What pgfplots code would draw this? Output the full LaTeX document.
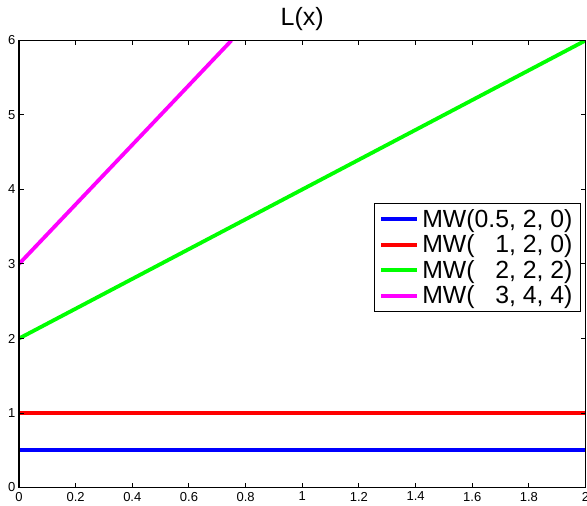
\documentclass[border=0pt]{standalone}
\usepackage{fontspec}
\setmainfont{Liberation Sans}
\usepackage{pgfplots}
\pgfplotsset{compat=1.18}
\definecolor{mlblue}{rgb}{0,0,1}
\definecolor{mlred}{rgb}{1,0,0}
\definecolor{mlgreen}{rgb}{0,1,0}
\definecolor{mlmag}{rgb}{1,0,1}
\begin{document}
\begin{tikzpicture}
\begin{axis}[
  scale only axis,
  width=566.5pt, height=447pt,
  xmin=0, xmax=2, ymin=0, ymax=6,
  xtick={0,0.2,0.4,0.6,0.8,1,1.2,1.4,1.6,1.8,2},
  ytick={0,1,2,3,4,5,6},
  tick align=inside,
  major tick length=5pt,
  axis on top,
  axis line style={line width=1.2pt, black},
  every tick/.style={black, line width=1pt},
  /pgf/number format/assume math mode=true,
  tick label style={font=\fontsize{13}{15}\selectfont},
  xticklabel style={yshift=-1pt},
  title={L(x)},
  title style={font=\fontsize{25}{30}\selectfont},
  legend style={
    at={(0.992,0.6365)}, anchor=north east,
    draw=black, line width=1pt,
    font=\fontsize{24.8}{29}\selectfont,
    cells={anchor=west},
    inner xsep=5pt, inner ysep=3pt,
    row sep=0pt,
    nodes={inner xsep=3pt, inner ysep=3pt},
  },
  legend cell align=left,
  legend image code/.code={\draw[#1, line width=3.8pt] (0pt,0pt) -- (36pt,0pt);},
]
\addplot[mlblue, line width=3.8pt] coordinates {(0,0.5) (2,0.5)};
\addplot[mlred, line width=3.8pt] coordinates {(0,1) (2,1)};
\addplot[mlgreen, line width=3.8pt] coordinates {(0,2) (2,6)};
\addplot[mlmag, line width=3.8pt] coordinates {(0,3) (0.75,6)};
\legend{{MW(0.5, 2, 0)}, {MW(\phantom{0.}1, 2, 0)}, {MW(\phantom{0.}2, 2, 2)}, {MW(\phantom{0.}3, 4, 4)}}
\end{axis}
\pgfresetboundingbox
\path ([xshift=-19pt,yshift=-17.5pt]current axis.south west) rectangle ([xshift=1.5pt,yshift=40.5pt]current axis.north east);
\end{tikzpicture}
\end{document}
